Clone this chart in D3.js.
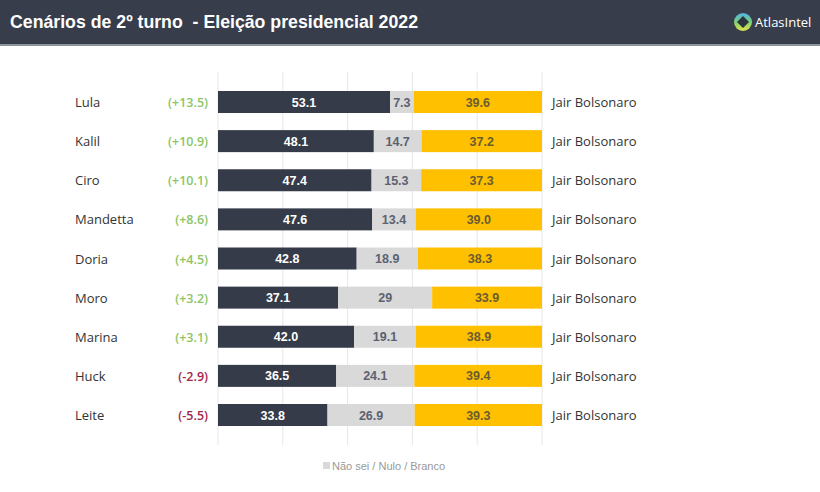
<!DOCTYPE html>
<html>
<head>
<meta charset="utf-8">
<script src="https://cdn.jsdelivr.net/npm/d3@7"></script>
<style>
  html, body { margin: 0; padding: 0; background: #fff; }
  svg { display: block; }
</style>
</head>
<body>
<div id="chart"></div>
<script>
const candidates = ['Lula', 'Kalil', 'Ciro', 'Mandetta', 'Doria', 'Moro', 'Marina', 'Huck', 'Leite']
const candidateVotes = [53.1, 48.1, 47.4, 47.6, 42.8, 37.1, 42.0, 36.5, 33.8]
const undecided = [7.3, 14.7, 15.3, 13.4, 18.9, 29, 19.1, 24.1, 26.9]
const bolsonaroVotes = [39.6, 37.2, 37.3, 39.0, 38.3, 33.9, 38.9, 39.4, 39.3]
const opponent = 'Jair Bolsonaro'
const xTicks = [0, 20, 40, 60, 80, 100]

const fullWidth = 820, fullHeight = 492
const colors = { dark: '#353b48', grey: '#d9d9d9', yellow: '#ffc000' }

const rows = candidates.map((name, i) => ({
  name,
  a: candidateVotes[i],
  b: undecided[i],
  c: bolsonaroVotes[i],
  diff: +(candidateVotes[i] - bolsonaroVotes[i]).toFixed(1)
}))

const svg = d3.select('#chart')
  .append('svg')
    .attr('width', fullWidth)
    .attr('height', fullHeight)

// header
svg.append('rect')
  .attr('width', fullWidth).attr('height', 46)
  .attr('fill', '#373d4b')
svg.append('rect')
  .attr('y', 44).attr('width', fullWidth).attr('height', 2)
  .attr('fill', '#8d929b')

svg.append('text')
  .attr('x', 10).attr('y', 28)
  .attr('fill', '#fff')
  .attr('font-family', 'Liberation Sans, Arial, sans-serif')
  .attr('font-weight', 'bold')
  .attr('font-size', 19)
  .attr('textLength', 408)
  .attr('lengthAdjust', 'spacingAndGlyphs')
  .style('white-space', 'pre')
  .text('Cenários de 2º turno  - Eleição presidencial 2022')

// logo
const grad = svg.append('defs').append('linearGradient')
  .attr('id', 'logoGrad').attr('x1', 0).attr('y1', 0).attr('x2', 0).attr('y2', 1)
grad.append('stop').attr('offset', '0%').attr('stop-color', '#4fb3e8')
grad.append('stop').attr('offset', '55%').attr('stop-color', '#7fd36a')
grad.append('stop').attr('offset', '100%').attr('stop-color', '#e8e24a')
const logo = svg.append('g').attr('transform', 'translate(743, 22)')
logo.append('circle').attr('r', 9).attr('fill', 'url(#logoGrad)')
logo.append('path')
  .attr('d', 'M0,-6 L6,0 L0,6 L-6,0 Z')
  .attr('fill', '#2e3340')
svg.append('text')
  .attr('x', 755).attr('y', 27)
  .attr('fill', '#fff')
  .attr('font-family', 'Open Sans, sans-serif')
  .attr('font-size', 13)
  .text('AtlasIntel')

// scales
const xScale = d3.scaleLinear().domain([0, 100]).range([218, 542])
const yScale = d3.scalePoint().domain(candidates).range([102, 415])
const barH = 22

// grid
svg.append('g')
  .selectAll('line')
  .data(xTicks)
  .enter()
  .append('line')
    .attr('x1', d => xScale(d)).attr('x2', d => xScale(d))
    .attr('y1', 72).attr('y2', 445)
    .attr('stroke', '#e6e6e6')
    .attr('stroke-width', 1)

const fmt = v => d3.format('.1f')(v).replace('\u2212', '-')
const midFmt = v => Number.isInteger(v) ? String(v) : fmt(v)

const row = svg.append('g')
  .selectAll('g')
  .data(rows)
  .enter()
  .append('g')
    .attr('transform', d => `translate(0, ${yScale(d.name)})`)

const segs = d => [
  { x0: 0, x1: d.a, fill: colors.dark, label: fmt(d.a), text: '#fff' },
  { x0: d.a, x1: d.a + d.b, fill: colors.grey, label: midFmt(d.b), text: '#5c6170' },
  { x0: d.a + d.b, x1: d.a + d.b + d.c, fill: colors.yellow, label: fmt(d.c), text: '#6b5d30' }
]

row.selectAll('rect')
  .data(segs)
  .enter()
  .append('rect')
    .attr('x', s => xScale(s.x0))
    .attr('width', s => xScale(s.x1) - xScale(s.x0))
    .attr('y', -barH / 2)
    .attr('height', barH)
    .attr('fill', s => s.fill)

row.selectAll('text.val')
  .data(segs)
  .enter()
  .append('text')
    .attr('class', 'val')
    .attr('x', s => (xScale(s.x0) + xScale(s.x1)) / 2)
    .attr('y', 4.5)
    .attr('text-anchor', 'middle')
    .attr('font-family', 'Liberation Sans, Arial, sans-serif')
    .attr('font-weight', 'bold')
    .attr('font-size', 12.5)
    .attr('fill', s => s.text)
    .text(s => s.label)

row.append('text')
  .attr('x', 75).attr('y', 5)
  .attr('font-family', 'Open Sans, sans-serif')
  .attr('font-size', 13)
  .attr('fill', '#333')
  .text(d => d.name)

row.append('text')
  .attr('x', 208).attr('y', 5)
  .attr('text-anchor', 'end')
  .attr('font-family', 'Open Sans, sans-serif')
  .attr('font-weight', 600)
  .attr('font-size', 12.5)
  .attr('fill', d => d.diff >= 0 ? '#8cc567' : '#a3254a')
  .text(d => `(${d.diff >= 0 ? '+' : ''}${fmt(d.diff)})`)

row.append('text')
  .attr('x', 552).attr('y', 5)
  .attr('font-family', 'Open Sans, sans-serif')
  .attr('font-size', 13)
  .attr('fill', '#333')
  .text(opponent)

// legend
svg.append('rect')
  .attr('x', 323).attr('y', 462)
  .attr('width', 7).attr('height', 7)
  .attr('fill', colors.grey)
svg.append('text')
  .attr('x', 332).attr('y', 469.5)
  .attr('font-family', 'Liberation Sans, Arial, sans-serif')
  .attr('font-size', 11)
  .attr('fill', '#999')
  .text('Não sei / Nulo / Branco')
</script>
</body>
</html>
